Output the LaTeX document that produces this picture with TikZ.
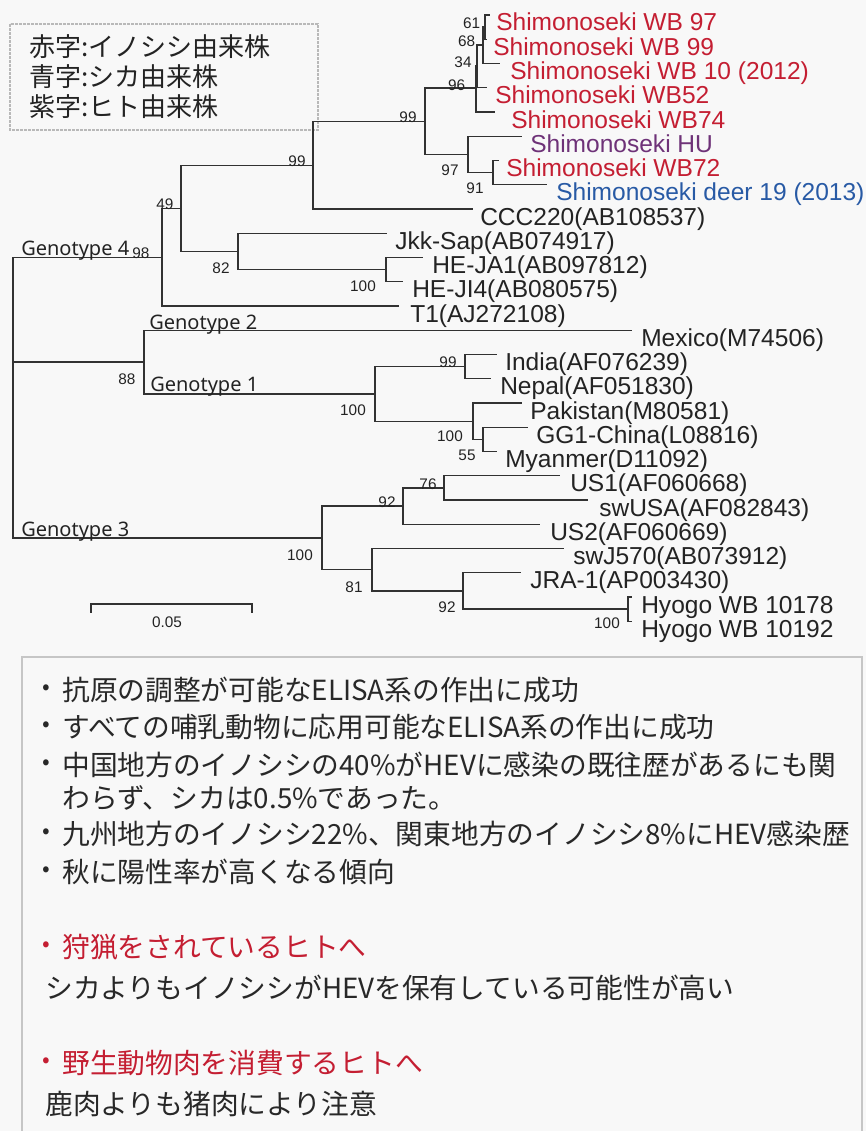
\documentclass[tikz,border=0pt]{standalone}
\usepackage{fontspec}
\setmainfont{Liberation Sans}
\newfontfamily\cjk{Noto Sans CJK JP}
\newfontfamily\geno{Noto Sans}
\definecolor{bg}{RGB}{248,248,248}
\definecolor{tk}{RGB}{35,35,35}
\definecolor{bt}{RGB}{40,40,40}
\definecolor{rd}{RGB}{196,30,50}
\definecolor{pu}{RGB}{110,50,120}
\definecolor{bl}{RGB}{40,90,165}
\definecolor{ln}{RGB}{50,50,50}
\begin{document}
\begin{tikzpicture}[x=0.75pt,y=-0.75pt,
  br/.style={line width=1pt, draw=ln},
  leaf/.style={anchor=base west, inner sep=0, font=\fontsize{18.4}{20}\selectfont, text=tk},
  bs/.style={inner sep=0, font=\fontsize{11.5}{12}\selectfont, text=tk},
  geno/.style={anchor=base west, inner sep=0, font=\geno\fontsize{15}{17}\selectfont, text=tk},
  leg/.style={anchor=west, inner sep=0, font=\cjk\fontsize{19.5}{22}\selectfont, text=tk},
  txt/.style={anchor=west, inner sep=0, font=\cjk\fontsize{20.8}{24}\selectfont, text=bt},
  bul/.style={anchor=center, inner sep=0, font=\cjk\fontsize{17}{18}\selectfont, text=bt},
]
\fill[bg] (0,0) rectangle (866,1131);
\useasboundingbox (0,0) rectangle (866,1131);

% legend
\draw[gray!55, line width=1.5pt, dash pattern=on 2pt off 1pt] (10,24) rectangle (318,130);
\node[leg] (lg1) at (29,47) {赤字:イノシシ由来株};
\node[leg] (lg2) at (29,77) {青字:シカ由来株};
\node[leg] (lg3) at (29,107) {紫字:ヒト由来株};

% leaf tips
\coordinate (t0) at (490,15);
\coordinate (t1) at (487,39.25);
\coordinate (t2) at (500,63.5);
\coordinate (t3) at (487,87.75);
\coordinate (t4) at (495,112);
\coordinate (t5) at (522,136.25);
\coordinate (t6) at (499,160.5);
\coordinate (t7) at (547,184.75);
\coordinate (t8) at (473,209);
\coordinate (t9) at (387,233.25);
\coordinate (t10) at (423,257.5);
\coordinate (t11) at (403,281.75);
\coordinate (t12) at (399,306);
\coordinate (t13) at (632,330.25);
\coordinate (t14) at (497,354.5);
\coordinate (t15) at (491,378.75);
\coordinate (t16) at (522,403);
\coordinate (t17) at (528,427.25);
\coordinate (t18) at (497,451.5);
\coordinate (t19) at (560,475.75);
\coordinate (t20) at (588,500);
\coordinate (t21) at (540,524.25);
\coordinate (t22) at (564,548.5);
\coordinate (t23) at (521,572.75);
\coordinate (t24) at (632,597);
\coordinate (t25) at (632,621.25);

% internal nodes
\coordinate (n61) at (485,27);
\coordinate (n68) at (483,45);
\coordinate (n34) at (477,66);
\coordinate (n96) at (476,88);
\coordinate (n91) at (493,172.5);
\coordinate (n97) at (468,154.5);
\coordinate (n99b) at (425,121.5);
\coordinate (n99a) at (313,165.5);
\coordinate (n100a) at (386,269.6);
\coordinate (n82) at (238,251.5);
\coordinate (n49) at (181,208.5);
\coordinate (n98) at (162,257.5);
\coordinate (n99c) at (465,366.6);
\coordinate (n55) at (483,439.4);
\coordinate (n100c) at (473,421.2);
\coordinate (n100b) at (375,393.9);
\coordinate (n88) at (144,362);
\coordinate (n76) at (444,487.9);
\coordinate (n92a) at (403,506);
\coordinate (n100e) at (628,609.1);
\coordinate (n92b) at (463,591);
\coordinate (n81) at (372,569.7);
\coordinate (n100d) at (322,537.9);
\coordinate (root) at (13,397.7);

% branches
\draw[br] (n61) |- (t0);  \draw[br] (n61) |- (t1);
\draw[br] (n68) |- (n61); \draw[br] (n68) |- (t2);
\draw[br] (n34) |- (n68); \draw[br] (n34) |- (t3);
\draw[br] (n96) |- (n34); \draw[br] (n96) |- (t4);
\draw[br] (n91) |- (t6);  \draw[br] (n91) |- (t7);
\draw[br] (n97) |- (t5);  \draw[br] (n97) |- (n91);
\draw[br] (n99b) |- (n96); \draw[br] (n99b) |- (n97);
\draw[br] (n99a) |- (n99b); \draw[br] (n99a) |- (t8);
\draw[br] (n100a) |- (t10); \draw[br] (n100a) |- (t11);
\draw[br] (n82) |- (t9); \draw[br] (n82) |- (n100a);
\draw[br] (n49) |- (n99a); \draw[br] (n49) |- (n82);
\draw[br] (n98) |- (n49); \draw[br] (n98) |- (t12);
\draw[br] (n99c) |- (t14); \draw[br] (n99c) |- (t15);
\draw[br] (n55) |- (t17); \draw[br] (n55) |- (t18);
\draw[br] (n100c) |- (t16); \draw[br] (n100c) |- (n55);
\draw[br] (n100b) |- (n99c); \draw[br] (n100b) |- (n100c);
\draw[br] (n88) |- (t13); \draw[br] (n88) |- (n100b);
\draw[br] (n76) |- (t19); \draw[br] (n76) |- (t20);
\draw[br] (n92a) |- (n76); \draw[br] (n92a) |- (t21);
\draw[br] (n100e) |- (t24); \draw[br] (n100e) |- (t25);
\draw[br] (n92b) |- (t23); \draw[br] (n92b) |- (n100e);
\draw[br] (n81) |- (t22); \draw[br] (n81) |- (n92b);
\draw[br] (n100d) |- (n92a); \draw[br] (n100d) |- (n81);
\draw[br] (root) |- (n98); \draw[br] (root) |- (n88); \draw[br] (root) |- (n100d);

% leaf labels
\node[leaf, text=rd] (L0) at (496,31) {Shimonoseki WB 97};
\node[leaf, text=rd] (L1) at (493,55.25) {Shimonoseki WB 99};
\node[leaf, text=rd] (L2) at (510,79.5) {Shimonoseki WB 10 (2012)};
\node[leaf, text=rd] (L3) at (495,103.75) {Shimonoseki WB52};
\node[leaf, text=rd] (L4) at (511,128) {Shimonoseki WB74};
\node[leaf, text=pu] (L5) at (530,152.25) {Shimonoseki HU};
\node[leaf, text=rd] (L6) at (506,176.5) {Shimonoseki WB72};
\node[leaf, text=bl] (L7) at (556,200.75) {Shimonoseki deer 19 (2013)};
\node[leaf] (L8) at (480,225) {CCC220(AB108537)};
\node[leaf] (L9) at (395,249.25) {Jkk-Sap(AB074917)};
\node[leaf] (L10) at (432,273.5) {HE-JA1(AB097812)};
\node[leaf] (L11) at (412,297.75) {HE-JI4(AB080575)};
\node[leaf] (L12) at (410,322) {T1(AJ272108)};
\node[leaf] (L13) at (641,346.25) {Mexico(M74506)};
\node[leaf] (L14) at (505,370.5) {India(AF076239)};
\node[leaf] (L15) at (500,394.75) {Nepal(AF051830)};
\node[leaf] (L16) at (530,419) {Pakistan(M80581)};
\node[leaf] (L17) at (536,443.25) {GG1-China(L08816)};
\node[leaf] (L18) at (505,467.5) {Myanmer(D11092)};
\node[leaf] (L19) at (570,491.75) {US1(AF060668)};
\node[leaf] (L20) at (599,516) {swUSA(AF082843)};
\node[leaf] (L21) at (550,540.25) {US2(AF060669)};
\node[leaf] (L22) at (573,564.5) {swJ570(AB073912)};
\node[leaf] (L23) at (530,588.75) {JRA-1(AP003430)};
\node[leaf] (L24) at (641,613) {Hyogo WB 10178};
\node[leaf] (L25) at (641,637.25) {Hyogo WB 10192};

% bootstrap values
\node[bs] (b61) at (471.7,23) {61};
\node[bs] (b68) at (466.7,41.7) {68};
\node[bs] (b34) at (463,62) {34};
\node[bs] (b96) at (456.7,85) {96};
\node[bs] (b99b) at (408,117) {99};
\node[bs] (b97) at (450,170) {97};
\node[bs] (b91) at (475,188) {91};
\node[bs] (b99a) at (297,161) {99};
\node[bs] (b49) at (165,204) {49};
\node[bs] (b98) at (141,253) {98};
\node[bs] (b82) at (221,268) {82};
\node[bs] (b100a) at (363,286) {100};
\node[bs] (b88) at (127,379) {88};
\node[bs] (b99c) at (448,362) {99};
\node[bs] (b100b) at (353,410) {100};
\node[bs] (b100c) at (450,436) {100};
\node[bs] (b55) at (467,455) {55};
\node[bs] (b92a) at (387,502) {92};
\node[bs] (b76) at (428,484) {76};
\node[bs] (b100d) at (300,555) {100};
\node[bs] (b81) at (354,587) {81};
\node[bs] (b92b) at (447,607) {92};
\node[bs] (b100e) at (607,623) {100};

% genotype labels
\node[geno] (g4) at (21,255.5) {Genotype 4};
\node[geno] (g2) at (149,329) {Genotype 2};
\node[geno] (g1) at (150,391.5) {Genotype 1};
\node[geno] (g3) at (21,536) {Genotype 3};

% scale bar
\coordinate (sb1) at (91,612.5);
\coordinate (sb2) at (252,612.5);
\draw[br] (sb1) -- ++(0,-8.5) -| (sb2);
\node[bs] (sbl) at (167,622) {0.05};

% bottom box
\draw[gray!45, line width=0.8pt] (22,1140) -- (22,657) -- (862,657) -- (862,1140);
\node[bul] (d1) at (46,690) {•};
\node[txt] (x1) at (62,690) {抗原の調整が可能なELISA系の作出に成功};
\node[bul] (d2) at (46,727) {•};
\node[txt] (x2) at (62,727) {すべての哺乳動物に応用可能なELISA系の作出に成功};
\node[bul] (d3) at (46,765) {•};
\node[txt] (x3) at (62,765) {中国地方のイノシシの40\%がHEVに感染の既往歴があるにも関};
\node[txt] (x4) at (62,798) {わらず、シカは0.5\%であった。};
\node[bul] (d5) at (46,834) {•};
\node[txt] (x5) at (62,834) {九州地方のイノシシ22\%、関東地方のイノシシ8\%にHEV感染歴};
\node[bul] (d6) at (46,872) {•};
\node[txt] (x6) at (62,872) {秋に陽性率が高くなる傾向};
\node[bul, text=rd] (d7) at (46,947) {•};
\node[txt, text=rd] (x7) at (62,947) {狩猟をされているヒトへ};
\node[txt] (x8) at (45,988) {シカよりもイノシシがHEVを保有している可能性が高い};
\node[bul, text=rd] (d9) at (46,1063) {•};
\node[txt, text=rd] (x9) at (62,1063) {野生動物肉を消費するヒトへ};
\node[txt] (x10) at (45,1104) {鹿肉よりも猪肉により注意};
\end{tikzpicture}
\end{document}
